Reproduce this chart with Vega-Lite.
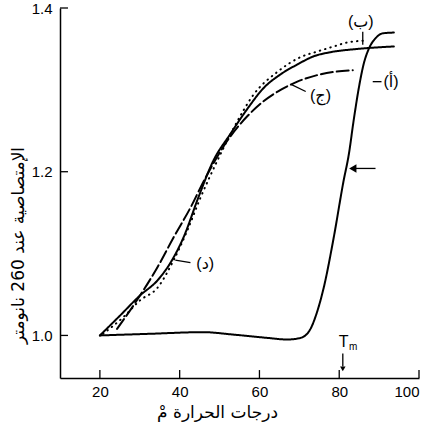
{
  "$schema": "https://vega.github.io/schema/vega-lite/v6.json",
  "width": 359,
  "height": 370,
  "autosize": "none",
  "padding": {"left": 60, "top": 8, "right": 17, "bottom": 58},
  "background": "white",
  "config": {
    "view": {"stroke": null},
    "axis": {
      "grid": false,
      "ticks": false,
      "domainColor": "black",
      "domainWidth": 1.5,
      "labelFont": "Liberation Sans",
      "labelFontSize": 15,
      "labelColor": "black",
      "titleFont": "DejaVu Sans",
      "titleFontWeight": "normal",
      "titleFontSize": 17,
      "titleColor": "black"
    }
  },
  "datasets": {
    "curves": [
      {"series": "a", "x": 20, "y": 1.0},
      {"series": "a", "x": 32.6, "y": 1.002},
      {"series": "a", "x": 45.9, "y": 1.004},
      {"series": "a", "x": 53.5, "y": 1.001},
      {"series": "a", "x": 62, "y": 0.997},
      {"series": "a", "x": 67, "y": 0.995},
      {"series": "a", "x": 70.3, "y": 0.997},
      {"series": "a", "x": 72.8, "y": 1.008},
      {"series": "a", "x": 74.2, "y": 1.025},
      {"series": "a", "x": 76.1, "y": 1.058},
      {"series": "a", "x": 78.6, "y": 1.119},
      {"series": "a", "x": 81.1, "y": 1.189},
      {"series": "a", "x": 82.4, "y": 1.221},
      {"series": "a", "x": 83.6, "y": 1.262},
      {"series": "a", "x": 84.9, "y": 1.302},
      {"series": "a", "x": 86.1, "y": 1.331},
      {"series": "a", "x": 87.4, "y": 1.35},
      {"series": "a", "x": 89.1, "y": 1.363},
      {"series": "a", "x": 90.9, "y": 1.369},
      {"series": "a", "x": 93.7, "y": 1.37},
      {"series": "b", "x": 20, "y": 1.0},
      {"series": "b", "x": 25, "y": 1.024},
      {"series": "b", "x": 30.1, "y": 1.049},
      {"series": "b", "x": 34.4, "y": 1.067},
      {"series": "b", "x": 37.6, "y": 1.088},
      {"series": "b", "x": 40.9, "y": 1.119},
      {"series": "b", "x": 44.8, "y": 1.17},
      {"series": "b", "x": 48.4, "y": 1.213},
      {"series": "b", "x": 52.7, "y": 1.246},
      {"series": "b", "x": 57, "y": 1.277},
      {"series": "b", "x": 61, "y": 1.302},
      {"series": "b", "x": 65.3, "y": 1.319},
      {"series": "b", "x": 69.5, "y": 1.331},
      {"series": "b", "x": 73.6, "y": 1.341},
      {"series": "b", "x": 77.8, "y": 1.346},
      {"series": "b", "x": 84.6, "y": 1.35},
      {"series": "b", "x": 93.7, "y": 1.353},
      {"series": "c", "x": 24.3, "y": 1.008},
      {"series": "c", "x": 30.1, "y": 1.049},
      {"series": "c", "x": 34.4, "y": 1.083},
      {"series": "c", "x": 38.4, "y": 1.119},
      {"series": "c", "x": 42.7, "y": 1.156},
      {"series": "c", "x": 46.4, "y": 1.192},
      {"series": "c", "x": 52.7, "y": 1.243},
      {"series": "c", "x": 57, "y": 1.268},
      {"series": "c", "x": 61, "y": 1.286},
      {"series": "c", "x": 65.3, "y": 1.3},
      {"series": "c", "x": 69.5, "y": 1.31},
      {"series": "c", "x": 75.3, "y": 1.319},
      {"series": "c", "x": 83.4, "y": 1.324},
      {"series": "d", "x": 20.8, "y": 1.002},
      {"series": "d", "x": 25.8, "y": 1.022},
      {"series": "d", "x": 30.1, "y": 1.043},
      {"series": "d", "x": 34.4, "y": 1.058},
      {"series": "d", "x": 38.4, "y": 1.091},
      {"series": "d", "x": 41.9, "y": 1.128},
      {"series": "d", "x": 45.2, "y": 1.168},
      {"series": "d", "x": 49.4, "y": 1.213},
      {"series": "d", "x": 53.5, "y": 1.253},
      {"series": "d", "x": 58.5, "y": 1.294},
      {"series": "d", "x": 64.5, "y": 1.322},
      {"series": "d", "x": 70.3, "y": 1.34},
      {"series": "d", "x": 74.6, "y": 1.347},
      {"series": "d", "x": 78.6, "y": 1.353},
      {"series": "d", "x": 82.1, "y": 1.358},
      {"series": "d", "x": 85.9, "y": 1.36}
    ],
    "xticks": [{"v": 20}, {"v": 40}, {"v": 60}, {"v": 80}, {"v": 100}],
    "yticks": [{"v": 1.0}, {"v": 1.2}, {"v": 1.4}],
    "rules": [
      {"x": 85.9, "x2": 85.9, "y": 1.371, "y2": 1.355},
      {"x": 88.4, "x2": 90.6, "y": 1.31, "y2": 1.31},
      {"x": 67.8, "x2": 71.6, "y": 1.307, "y2": 1.298},
      {"x": 38.9, "x2": 42.7, "y": 1.092, "y2": 1.089},
      {"x": 83.5, "x2": 89.1, "y": 1.204, "y2": 1.204},
      {"x": 80.9, "x2": 80.9, "y": 0.978, "y2": 0.962}
    ],
    "headsLeft": [{"x": 83.4, "y": 1.204}],
    "headsDown": [{"x": 80.9, "y": 0.959}],
    "labels": [
      {"x": 85.4, "y": 1.383, "text": "(ب)"},
      {"x": 93.0, "y": 1.31, "text": "(أ)"},
      {"x": 75.3, "y": 1.292, "text": "(ج)"},
      {"x": 46.4, "y": 1.087, "text": "(د)"},
      {"x": 81.1, "y": 0.9915, "text": "T"}
    ],
    "subs": [{"x": 83.5, "y": 0.986, "text": "m"}]
  },
  "layer": [
    {
      "data": {"name": "curves"},
      "mark": {"type": "line", "interpolate": "monotone", "strokeWidth": 2, "strokeCap": "round", "color": "black"},
      "encoding": {
        "x": {
          "field": "x", "type": "quantitative",
          "scale": {"domain": [10, 100], "nice": false, "zero": false},
          "axis": {
            "values": [20, 40, 60, 80, 100],
            "labelPadding": 6,
            "title": "درجات الحرارة  مْ",
            "titleX": 157,
            "titleY": 34,
            "titleAlign": "center",
            "titleAnchor": "middle",
            "titleBaseline": "middle"
          }
        },
        "y": {
          "field": "y", "type": "quantitative",
          "scale": {"domain": [0.948, 1.4], "nice": false, "zero": false},
          "axis": {
            "values": [1.0, 1.2, 1.4],
            "format": ".1f",
            "labelPadding": 8,
            "title": "الإمتصاصية عند 260 نانومتر",
            "titleX": -42,
            "titleY": 237,
            "titleAlign": "center",
            "titleAnchor": "middle",
            "titleBaseline": "middle",
            "titleAngle": -90
          }
        },
        "detail": {"field": "series"},
        "strokeDash": {
          "field": "series", "type": "nominal",
          "scale": {"domain": ["a", "b", "c", "d"], "range": [[1, 0], [1, 0], [12, 4], [0.5, 5]]},
          "legend": null
        }
      }
    },
    {
      "data": {"name": "xticks"},
      "mark": {"type": "rule", "color": "black", "strokeWidth": 1.3},
      "encoding": {
        "x": {"field": "v", "type": "quantitative"},
        "y": {"datum": 0.948},
        "y2": {"datum": 0.9577}
      }
    },
    {
      "data": {"name": "yticks"},
      "mark": {"type": "rule", "color": "black", "strokeWidth": 1.3},
      "encoding": {
        "y": {"field": "v", "type": "quantitative"},
        "x": {"datum": 10},
        "x2": {"datum": 12}
      }
    },
    {
      "data": {"name": "rules"},
      "mark": {"type": "rule", "color": "black", "strokeWidth": 1.3},
      "encoding": {
        "x": {"field": "x", "type": "quantitative"},
        "x2": {"field": "x2"},
        "y": {"field": "y", "type": "quantitative"},
        "y2": {"field": "y2"}
      }
    },
    {
      "data": {"name": "headsLeft"},
      "mark": {"type": "point", "shape": "triangle-left", "filled": true, "color": "black", "size": 70, "opacity": 1},
      "encoding": {
        "x": {"field": "x", "type": "quantitative"},
        "y": {"field": "y", "type": "quantitative"}
      }
    },
    {
      "data": {"name": "headsDown"},
      "mark": {"type": "point", "shape": "triangle-down", "filled": true, "color": "black", "size": 30, "opacity": 1},
      "encoding": {
        "x": {"field": "x", "type": "quantitative"},
        "y": {"field": "y", "type": "quantitative"}
      }
    },
    {
      "data": {"name": "labels"},
      "mark": {"type": "text", "font": "Liberation Sans, DejaVu Sans", "fontSize": 16, "color": "black", "align": "center", "baseline": "middle"},
      "encoding": {
        "x": {"field": "x", "type": "quantitative"},
        "y": {"field": "y", "type": "quantitative"},
        "text": {"field": "text"}
      }
    },
    {
      "data": {"name": "subs"},
      "mark": {"type": "text", "font": "Liberation Sans", "fontSize": 10, "color": "black", "align": "center", "baseline": "middle"},
      "encoding": {
        "x": {"field": "x", "type": "quantitative"},
        "y": {"field": "y", "type": "quantitative"},
        "text": {"field": "text"}
      }
    }
  ]
}
